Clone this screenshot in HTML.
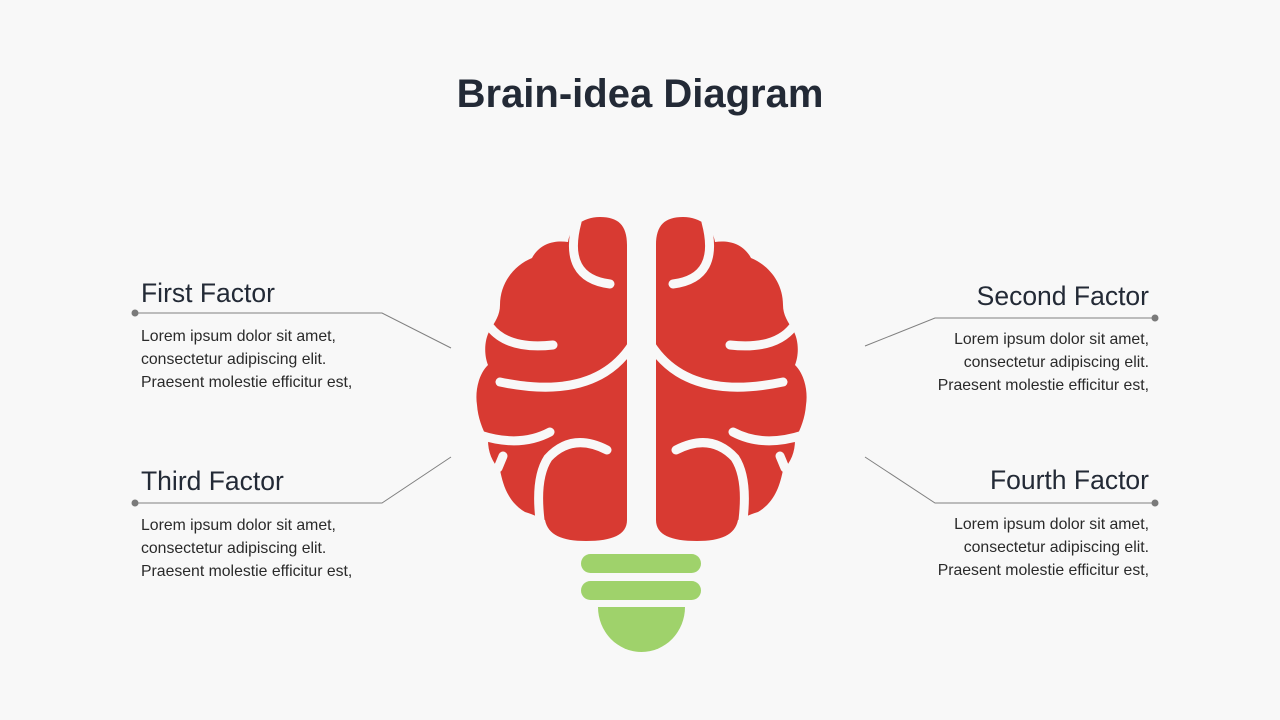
<!DOCTYPE html>
<html><head><meta charset="utf-8"><style>
html,body{margin:0;padding:0;background:#f8f8f8;}
body{width:1280px;height:720px;position:relative;overflow:hidden;font-family:"Liberation Sans",sans-serif;}
.t{position:absolute;white-space:nowrap;}
h1{position:absolute;left:0;width:1280px;top:72px;margin:0;text-align:center;font-size:40px;font-weight:bold;color:#232a36;}
.h{font-size:26.5px;color:#232a36;}
.b{font-size:15.8px;line-height:23px;color:#2a2a2a;}
.r{text-align:right;}
</style></head><body>
<h1>Brain-idea Diagram</h1>
<svg width="1280" height="720" style="position:absolute;left:0;top:0">
<g stroke="#808080" stroke-width="1" fill="none">
<polyline points="135,313 382,313 451,348"/>
<polyline points="1155,318 935,318 865,346"/>
<polyline points="135,503 382,503 451,457"/>
<polyline points="1155,503 935,503 865,457"/>
</g>
<g fill="#7a7a7a"><circle cx="135" cy="313" r="3.5"/><circle cx="1155" cy="318" r="3.5"/><circle cx="135" cy="503" r="3.5"/><circle cx="1155" cy="503" r="3.5"/></g>
<g id="L">
<path fill="#d83a32" d="M627,520 L627,245 C627,225 618,217 600,217 C582,217 570,228 568,242 C555,240 540,243 532,258 C515,265 500,282 500,305 C500,315 495,322 490,330 C484,340 484,355 488,365 C478,375 475,392 477,405 C478,418 482,428 488,440 C488,452 492,462 500,470 C503,485 508,502 525,512 C535,515 540,518 545,520 C548,535 562,541 586,541 C612,541 627,535 627,520 Z"/>
<g stroke="#f8f8f8" stroke-width="9" fill="none" stroke-linecap="round">
<path d="M577,222 Q562,278 610,284"/>
<path d="M490,327 Q508,350 553,345"/>
<path d="M632,345 Q595,402 500,382"/>
<path d="M480,435 Q520,448 550,432"/>
<path d="M607,450 Q572,432 548,458 Q535,478 540,520"/>
<path d="M503,456 L498,468"/>
</g>
</g>
<use href="#L" transform="translate(1283,0) scale(-1,1)"/>
<g fill="#9fd26b">
<rect x="581" y="554" width="120" height="19" rx="9.5"/>
<rect x="581" y="581" width="120" height="19" rx="9.5"/>
<path d="M598,607 L685,607 A43.5,45 0 0 1 598,607 Z"/>
</g>
</svg>
<div class="t h" style="left:141px;top:278px">First Factor</div>
<div class="t b" style="left:141px;top:325px">Lorem ipsum dolor sit amet,<br>consectetur adipiscing elit.<br>Praesent molestie efficitur est,</div>
<div class="t h r" style="right:131px;top:281px">Second Factor</div>
<div class="t b r" style="right:131px;top:328px">Lorem ipsum dolor sit amet,<br>consectetur adipiscing elit.<br>Praesent molestie efficitur est,</div>
<div class="t h" style="left:141px;top:466px">Third Factor</div>
<div class="t b" style="left:141px;top:514px">Lorem ipsum dolor sit amet,<br>consectetur adipiscing elit.<br>Praesent molestie efficitur est,</div>
<div class="t h r" style="right:131px;top:465px">Fourth Factor</div>
<div class="t b r" style="right:131px;top:513px">Lorem ipsum dolor sit amet,<br>consectetur adipiscing elit.<br>Praesent molestie efficitur est,</div>
</body></html>
